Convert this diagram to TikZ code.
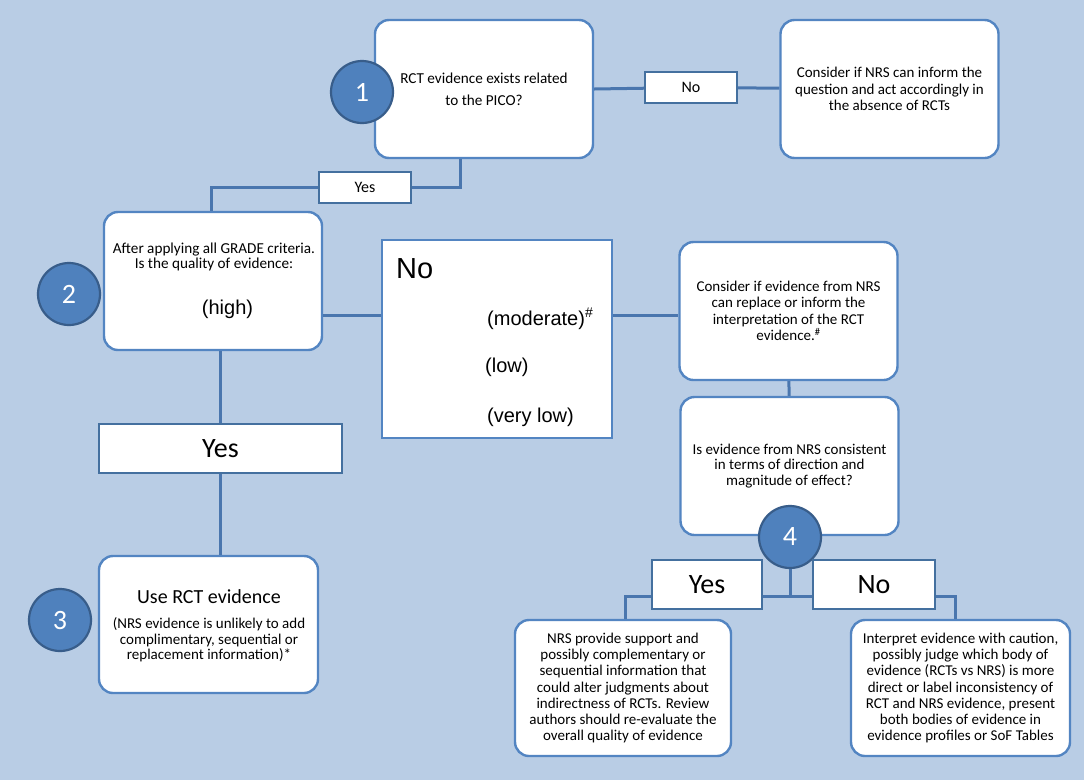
\documentclass[tikz,border=0pt]{standalone}
\usepackage{fontspec}
\setmainfont{Carlito}
\newfontfamily\arialfont{Liberation Sans}
\usetikzlibrary{positioning}
\definecolor{bgblue}{HTML}{B9CDE5}
\definecolor{boxblue}{HTML}{5385C2}
\definecolor{lblblue}{HTML}{44709F}
\definecolor{lineblue}{HTML}{4A76AE}
\definecolor{numblue}{HTML}{4F81BD}
\definecolor{numedge}{HTML}{385D8A}
\newcommand\txt{\fontsize{15}{16.3}\selectfont}

\begin{document}
\begin{tikzpicture}[x=1pt,y=-1pt,
	box/.style={draw=boxblue, line width=2.4pt, fill=white, rounded corners=14pt,
		minimum width=218pt, minimum height=138pt, align=center, inner sep=0pt},
	sqbox/.style={draw=boxblue, line width=2pt, fill=white,
		minimum width=230pt, minimum height=198pt},
	lbl/.style={draw=lblblue, line width=1.8pt, fill=white, inner sep=0pt},
	num/.style={circle, draw=numedge, line width=2.2pt, fill=numblue, minimum size=62pt,
		inner sep=0pt, text=white, font=\fontsize{28}{28}\selectfont},
	link/.style={draw=lineblue, line width=3pt},
	]
	\useasboundingbox (0,0) rectangle (1084,780);
	\fill[bgblue] (0,0) rectangle (1084,780);

	% boxes
	\node[box, font=\fontsize{15.2}{22}\selectfont] (pico) at (484,89) {RCT evidence exists related\\to the PICO?};
	\node[box, font=\fontsize{15}{16.5}\selectfont] (absent) at (889.5,89) {Consider if NRS can inform the\\question and act accordingly in\\the absence of RCTs};
	\node[box] (grade) at (213,281) {};
	\node[sqbox] (lower) at (497,339) {};
	\node[box, font=\fontsize{15}{16.5}\selectfont] (replace) at (788.5,311) {Consider if evidence from NRS\\can replace or inform the\\interpretation of the RCT\\evidence.\textsuperscript{\#}};
	\node[box, font=\fontsize{15}{15.5}\selectfont] (consist) at (789.5,466) {Is evidence from NRS consistent\\in terms of direction and\\magnitude of effect?};
	\node[box, minimum width=219pt, minimum height=137pt] (usect) at (208.5,624.5) {};
	\node[box, minimum width=216pt, minimum height=136pt, font=\txt] (support) at (623,688) {NRS provide support and\\possibly complementary or\\sequential information that\\could alter judgments about\\indirectness of RCTs. Review\\authors should re-evaluate the\\overall quality of evidence};
	\node[box, minimum width=219pt, minimum height=136pt, font=\txt] (caution) at (960.5,688) {Interpret evidence with caution,\\possibly judge which body of\\evidence (RCTs vs NRS) is more\\direct or label inconsistency of\\RCT and NRS evidence, present\\both bodies of evidence in\\evidence profiles or SoF Tables};

	% texts inside the boxes
	\node[align=center, font=\fontsize{15.2}{15.5}\selectfont] (gradeq) at (214,257) {After applying all GRADE criteria.\\Is the quality of evidence:};
	\node[font=\arialfont\fontsize{20}{20}\selectfont] (high) at (227.5,309) {(high)};
	\node[anchor=base west, inner sep=0pt, font=\arialfont\fontsize{29}{29}\selectfont] (notxt) at (396,278) {No};
	\node[anchor=base west, inner sep=0pt, font=\arialfont\fontsize{20}{20}\selectfont] (moderate) at (487,325) {(moderate)\textsuperscript{\#}};
	\node[anchor=base west, inner sep=0pt, font=\arialfont\fontsize{20}{20}\selectfont] (low) at (485,372) {(low)};
	\node[anchor=base west, inner sep=0pt, font=\arialfont\fontsize{20}{20}\selectfont] (verylow) at (487,422) {(very low)};
	\node[font=\fontsize{20}{20}\selectfont] (usehead) at (209,597) {Use RCT evidence};
	\node[align=center, font=\fontsize{15}{15.5}\selectfont] (usenote) at (209,640) {(NRS evidence is unlikely to add\\complimentary, sequential or\\replacement information)*};

	% numbers
	\node[num] (n1) at (362,92) {1};
	\node[num] (n2) at (69,294) {2};
	\node[num] (n3) at (60,620) {3};
	\node[num] (n4) at (790,537) {4};

	% answers
	\node[lbl, minimum width=92pt, minimum height=31pt, font=\fontsize{16}{16}\selectfont] (no1) at (691,87.5) {No};
	\node[lbl, minimum width=92pt, minimum height=31pt, font=\fontsize{16}{16}\selectfont] (yes1) at (365,187.5) {Yes};
	\node[lbl, minimum width=243pt, minimum height=49pt, font=\fontsize{28}{28}\selectfont] (yes2) at (220.5,448.5) {Yes};
	\node[lbl, minimum width=110pt, minimum height=49pt, font=\fontsize{28}{28}\selectfont] (yes4) at (707,584.5) {Yes};
	\node[lbl, minimum width=122pt, minimum height=49pt, font=\fontsize{28}{28}\selectfont] (no4) at (874,584.5) {No};

	% connectors
	\coordinate (drop) at (460,0);
	\coordinate (mid) at (0,315);
	\coordinate (fork) at (790,596);
	\draw[link] (pico.east) -- (no1);
	\draw[link] (no1) -- (absent);
	\draw[link] (pico.south -| drop) |- (yes1);
	\draw[link] (yes1) -| ([xshift=-2pt]grade.north);
	\draw[link] (grade.east |- mid) -- (lower.west |- mid);
	\draw[link] (lower.east |- mid) -- (replace.west |- mid);
	\draw[link] (grade.south -| yes2) -- (yes2);
	\draw[link] (yes2) -- (yes2 |- usect.north);
	\draw[link] (replace) -- (consist);
	\draw[link] (n4) -- (fork);
	\draw[link] (yes4.east |- fork) -- (no4.west |- fork);
	\draw[link] (yes4.west |- fork) -| ([xshift=2pt]support.north);
	\draw[link] (no4.east |- fork) -| ([xshift=-5pt]caution.north);

\end{tikzpicture}
\end{document}
